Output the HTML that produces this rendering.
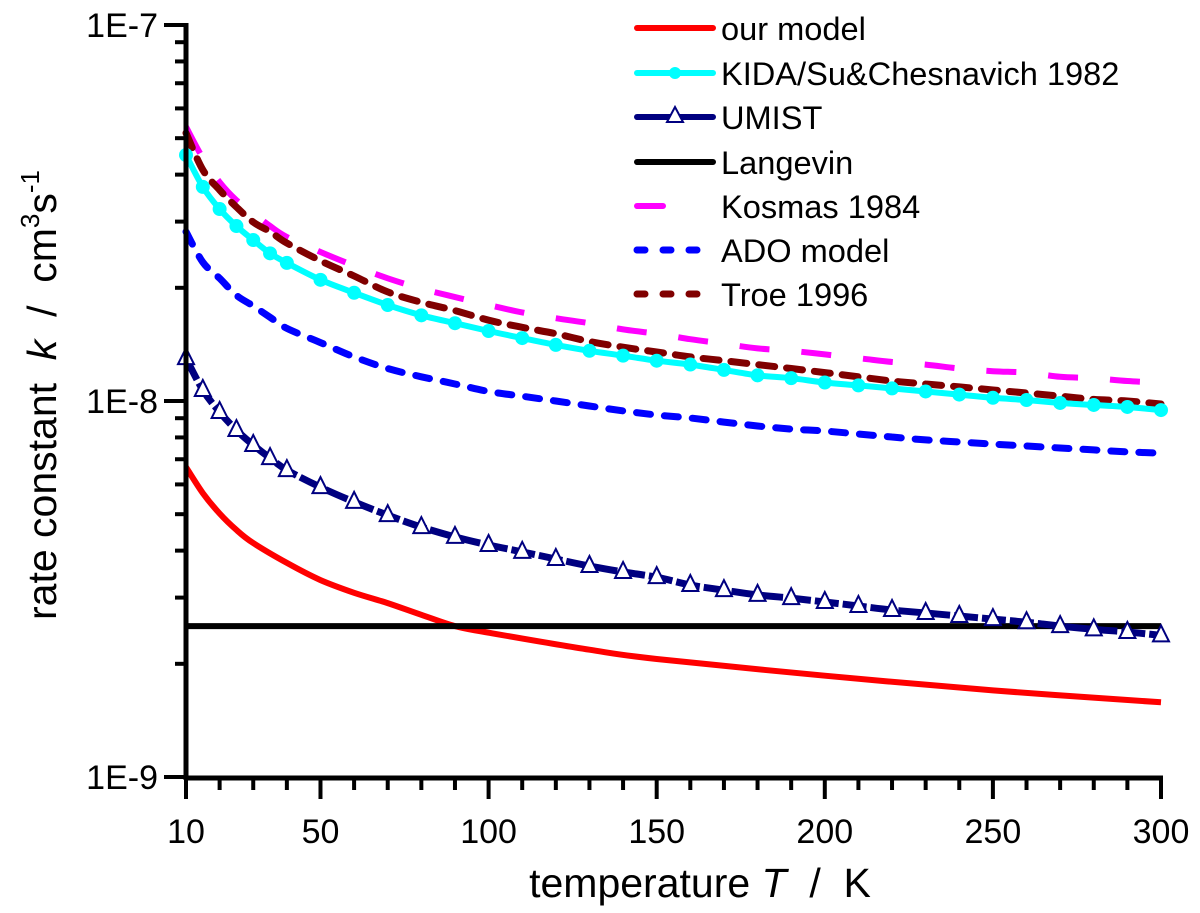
<!DOCTYPE html>
<html><head><meta charset="utf-8"><style>
html,body{margin:0;padding:0;background:#fff;}
svg{display:block;font-family:"Liberation Sans",Arial,sans-serif;}
</style></head><body>
<svg id="chart" width="1200" height="913" viewBox="0 0 1200 913" xmlns="http://www.w3.org/2000/svg">
<g id="series"></g>
<g id="axes"></g>
<g id="legend"></g>
<text x="700" y="897" font-size="41" text-anchor="middle" xml:space="preserve">temperature <tspan font-style="italic">T</tspan>  /  K</text>
<text transform="translate(56,395) rotate(-90)" font-size="41" text-anchor="middle" xml:space="preserve">rate constant  <tspan font-style="italic">k</tspan>  /  cm<tspan font-size="26" dy="-17">3</tspan><tspan dy="17">s</tspan><tspan font-size="26" dy="-17">-1</tspan></text>
</svg>
<script>
// temperatures (K)
const temps = [10,15,20,25,30,35,40,50,60,70,80,90,100,110,120,130,140,150,160,170,180,190,200,210,220,230,240,250,260,270,280,290,300];
// values in units of 1E-9 cm^3 s^-1
const kidaVals = [45.1,37.1,32.4,29.2,26.8,24.7,23.3,21.0,19.4,18.0,16.9,16.1,15.35,14.7,14.1,13.6,13.2,12.8,12.5,12.1,11.7,11.5,11.2,11.0,10.8,10.6,10.4,10.2,10.06,9.88,9.76,9.64,9.46];
const umistVals = [13.0,10.7,9.35,8.37,7.64,7.05,6.55,5.90,5.39,4.97,4.62,4.35,4.14,3.97,3.80,3.64,3.51,3.40,3.24,3.14,3.05,2.99,2.92,2.85,2.78,2.73,2.68,2.63,2.58,2.52,2.47,2.43,2.38];
const troeVals = [51.6,41.2,36.4,32.8,29.9,28.2,26.3,23.6,21.5,19.5,18.3,17.4,16.4,15.7,15.1,14.4,13.9,13.5,13.1,12.8,12.5,12.2,11.9,11.6,11.3,11.1,10.9,10.7,10.5,10.3,10.1,10.0,9.82];
const kosmasVals = [53.6,44.3,38.2,34.2,31.6,29.2,27.3,24.9,22.9,21.2,19.9,18.9,18.0,17.2,16.6,16.1,15.5,15.1,14.6,14.2,13.8,13.6,13.3,13.0,12.7,12.5,12.2,12.0,11.9,11.6,11.5,11.3,11.2];
const adoVals = [28.2,23.4,21.2,19.1,17.9,16.7,15.6,14.3,13.1,12.2,11.6,11.1,10.6,10.3,10.0,9.70,9.41,9.18,9.01,8.79,8.58,8.42,8.32,8.17,8.02,7.88,7.78,7.68,7.59,7.50,7.41,7.32,7.27];
const ourTemps = [10,15,20,25,30,40,50,60,70,80,90,100,130,150,200,250,300];
const ourVals = [6.67,5.69,5.02,4.54,4.19,3.71,3.34,3.09,2.90,2.70,2.52,2.42,2.18,2.06,1.86,1.70,1.58];
const langevinTemps = [10,300];
const langevinVals = [2.52,2.52];
const xMajorTicks = [10,50,100,150,200,250,300];
const xMinorTicks = [20,30,40,60,70,80,90,110,120,130,140,160,170,180,190,210,220,230,240,260,270,280,290];
const yMajorTicks = [100,10,1];
const yMajorLabels = ["1E-7","1E-8","1E-9"];
const legendLabels = ["our model","KIDA/Su&Chesnavich 1982","UMIST","Langevin","Kosmas 1984","ADO model","Troe 1996"];

const NS="http://www.w3.org/2000/svg";
const X0=186,X1=1161,T0=10,T1=300,YTOP=25,DEC=376;
function xs(t){return X0+(t-T0)/(T1-T0)*(X1-X0);}
function ys(v){return YTOP+(2-Math.log10(v))*DEC;}
function mk(tag,attrs,parent){const e=document.createElementNS(NS,tag);for(const k in attrs)e.setAttribute(k,attrs[k]);parent.appendChild(e);return e;}
function smoothPath(ts,vs){
  const p=ts.map((t,i)=>[xs(t),ys(vs[i])]);
  let d="M"+p[0][0].toFixed(1)+","+p[0][1].toFixed(1);
  for(let i=0;i<p.length-1;i++){
    const a=p[Math.max(0,i-1)],b=p[i],c=p[i+1],e=p[Math.min(p.length-1,i+2)];
    const c1=[b[0]+(c[0]-a[0])/6,b[1]+(c[1]-a[1])/6],c2=[c[0]-(e[0]-b[0])/6,c[1]-(e[1]-b[1])/6];
    d+=" C"+c1[0].toFixed(1)+","+c1[1].toFixed(1)+" "+c2[0].toFixed(1)+","+c2[1].toFixed(1)+" "+c[0].toFixed(1)+","+c[1].toFixed(1);
  }
  return d;
}
const S=document.getElementById("series");
let el;
el=mk("path",{d:smoothPath(ourTemps,ourVals),fill:"none",stroke:"#ff0000","stroke-width":6},S);


el=mk("path",{d:smoothPath(langevinTemps,langevinVals),fill:"none",stroke:"#000","stroke-width":6},S);


el=mk("path",{d:smoothPath(temps,adoVals),fill:"none",stroke:"#0000ff","stroke-width":7,"stroke-dasharray":"14 14","stroke-linecap":"round"},S);


el=mk("path",{d:smoothPath(temps,kosmasVals),fill:"none",stroke:"#ff00ff","stroke-width":6,"stroke-dasharray":"30 32"},S);


el=mk("path",{d:smoothPath(temps,troeVals),fill:"none",stroke:"#800000","stroke-width":7,"stroke-dasharray":"16 12","stroke-linecap":"round"},S);


el=mk("path",{d:smoothPath(temps,kidaVals),fill:"none",stroke:"#00ffff","stroke-width":6},S);


temps.forEach((t,i)=>{
  const c=mk("circle",{cx:xs(t),cy:ys(kidaVals[i]),r:7,fill:"#00ffff"},S);
  
  
});
el=mk("path",{d:smoothPath(temps,umistVals),fill:"none",stroke:"#000080","stroke-width":7,"stroke-dasharray":"24 4"},S);


temps.forEach((t,i)=>{
  const x=xs(t),y=ys(umistVals[i]);
  const tr=mk("polygon",{points:`${x-8},${y+6} ${x+8},${y+6} ${x},${y-10}`,fill:"#fff",stroke:"#000080","stroke-width":2},S);
  
  
});
// axes
const A=document.getElementById("axes");
el=mk("line",{x1:X0,y1:YTOP-2,x2:X0,y2:780,stroke:"#000","stroke-width":5},A);


el=mk("line",{x1:X0,y1:778,x2:X1+2,y2:778,stroke:"#000","stroke-width":5},A);


yMajorTicks.forEach((v,i)=>{
  const y=ys(v);
  const t=mk("line",{x1:164,y1:y,x2:X0,y2:y,stroke:"#000","stroke-width":4},A);
  
  
  const l=mk("text",{x:158,y:y+12,"font-size":34,"text-anchor":"end"},A);
  l.textContent=yMajorLabels[i];
  
  
  if(v>1){for(let m=2;m<=9;m++){
    const ym=ys(v/10*m);
    const mt=mk("line",{x1:175,y1:ym,x2:X0,y2:ym,stroke:"#000","stroke-width":4},A);
    
    
  }}
});
xMajorTicks.forEach(t=>{
  const x=xs(t);
  const tk=mk("line",{x1:x,y1:778,x2:x,y2:799,stroke:"#000","stroke-width":4},A);
  
  
  const l=mk("text",{x:x,y:843,"font-size":34,"text-anchor":"middle"},A);
  l.textContent=String(t);
  
  
});
xMinorTicks.forEach(t=>{
  const x=xs(t);
  const tk=mk("line",{x1:x,y1:778,x2:x,y2:790,stroke:"#000","stroke-width":4},A);
  
  
});
// legend
const L=document.getElementById("legend");
const ly=[28,73,117,162,206,250,294];
function legLine(i,attrs){const e=mk("line",Object.assign({x1:637,y1:ly[i],x2:713,y2:ly[i],"stroke-width":6},attrs),L);return e;}
el=legLine(0,{stroke:"#ff0000","stroke-linecap":"round"});


el=legLine(1,{stroke:"#00ffff","stroke-linecap":"round"});


el=mk("circle",{cx:675,cy:ly[1],r:6,fill:"#00ffff"},L);


el=legLine(2,{stroke:"#000080","stroke-linecap":"round"});


el=mk("polygon",{points:`667,${ly[2]+5} 683,${ly[2]+5} 675,${ly[2]-10}`,fill:"#fff",stroke:"#000080","stroke-width":2},L);


el=legLine(3,{stroke:"#000","stroke-linecap":"round"});


el=mk("line",{x1:637,y1:ly[4],x2:663,y2:ly[4],stroke:"#ff00ff","stroke-width":6,"stroke-linecap":"round"},L);


el=mk("line",{x1:637,y1:ly[5],x2:700,y2:ly[5],stroke:"#0000ff","stroke-width":7,"stroke-dasharray":"8 18","stroke-linecap":"round"},L);


el=mk("line",{x1:637,y1:ly[6],x2:700,y2:ly[6],stroke:"#800000","stroke-width":7,"stroke-dasharray":"8 18","stroke-linecap":"round"},L);


legendLabels.forEach((s,i)=>{
  const t=mk("text",{x:721,y:ly[i]+12,"font-size":32.6},L);
  t.textContent=s;
  
  
});
</script>
</body></html>
